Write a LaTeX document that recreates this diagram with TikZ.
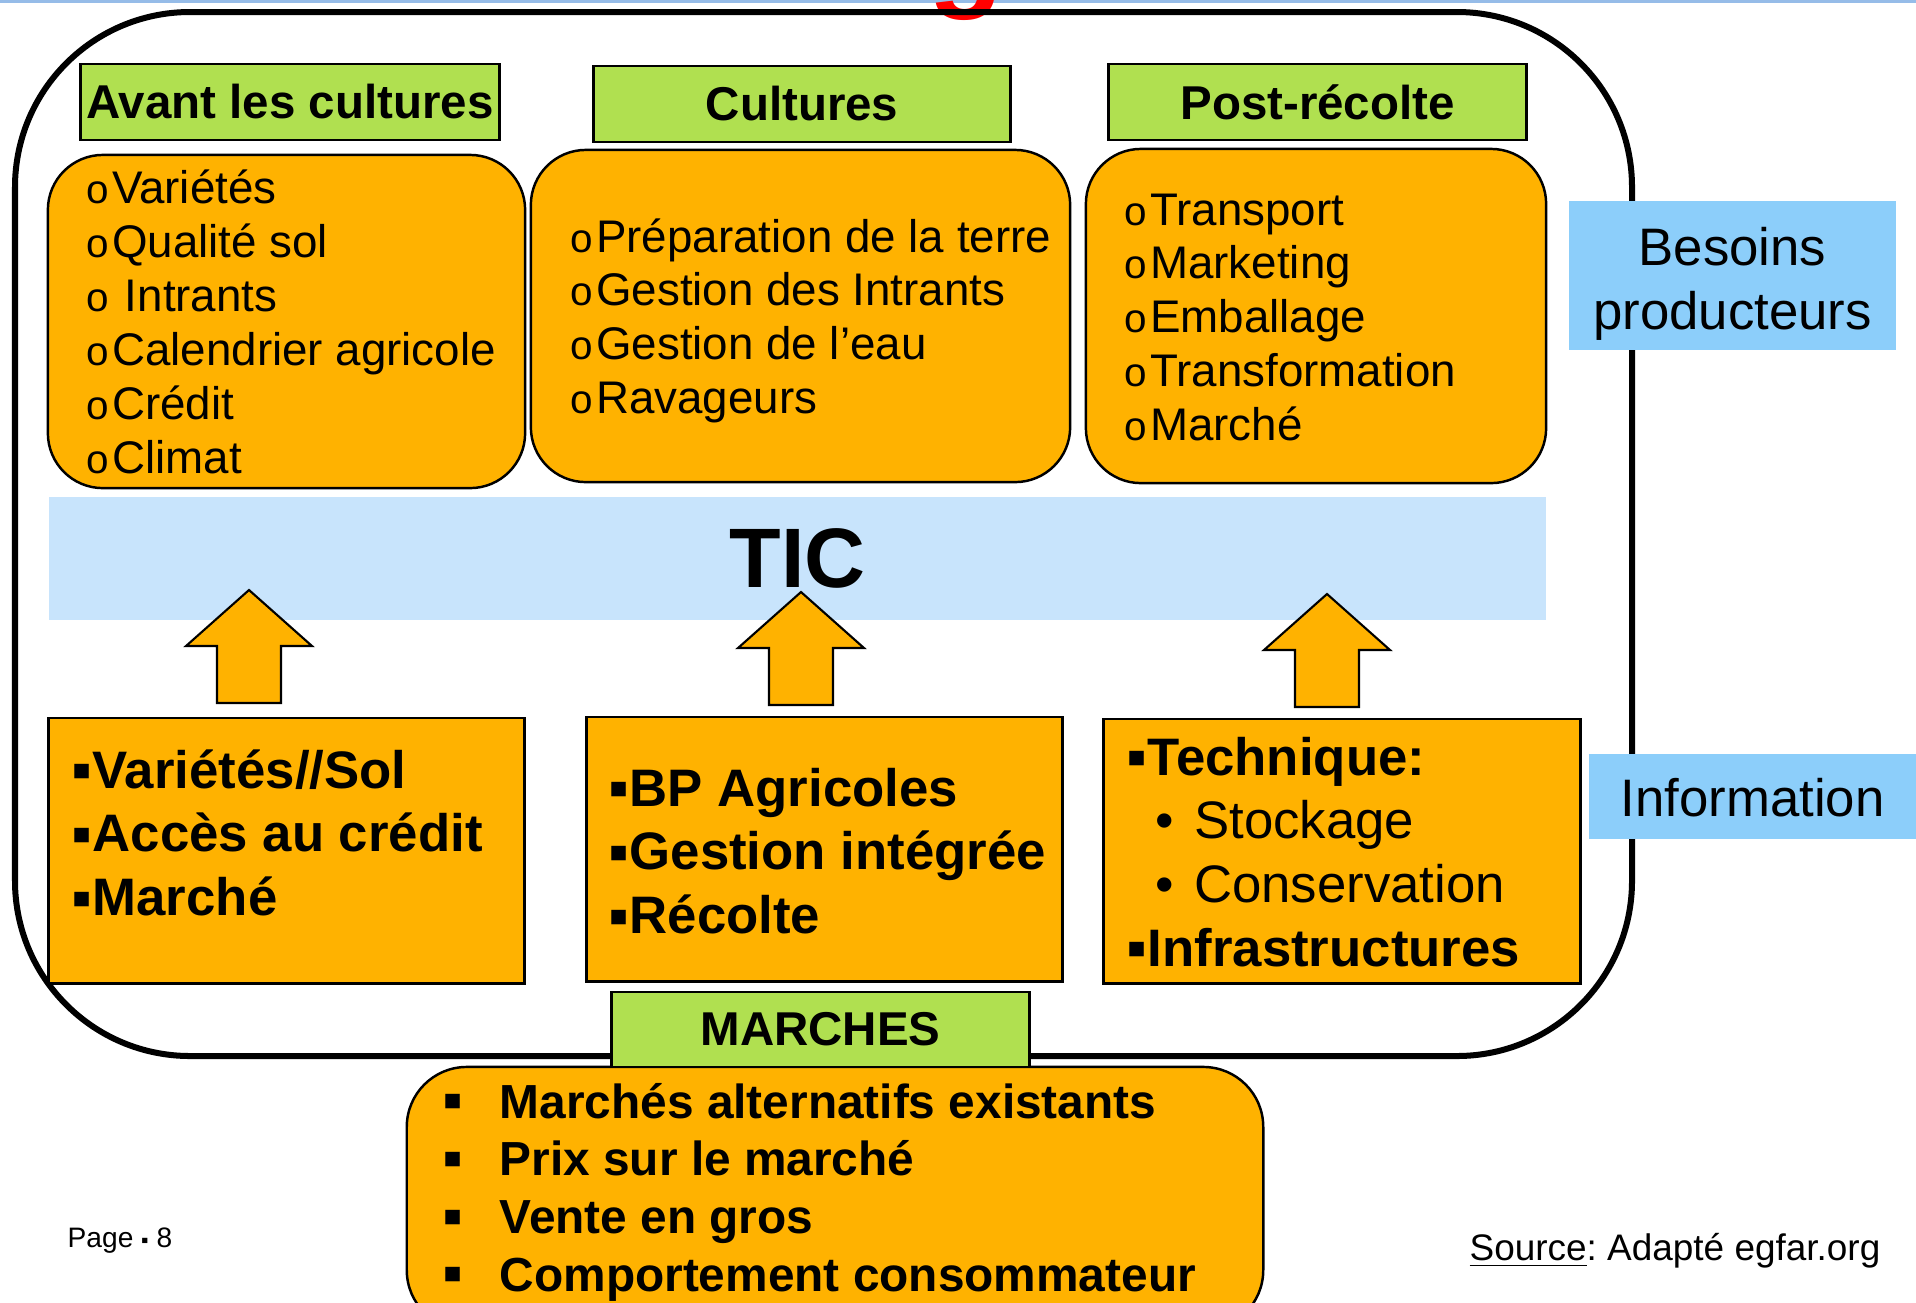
\documentclass[tikz,border=0pt]{standalone}
\usepackage{fontspec}
\setmainfont{Liberation Sans}

\definecolor{hdrgreen}{RGB}{176,224,80}
\definecolor{boxorange}{RGB}{255,178,0}
\definecolor{ticblue}{RGB}{200,228,252}
\definecolor{sideblue}{RGB}{140,206,250}
\definecolor{rulerblue}{RGB}{150,188,232}

% list bullets
\newcommand{\ob}{{\fontsize{11.5}{11.5}\selectfont o}\hspace{0.03cm}}
\newcommand{\sqb}{\makebox[0.2cm][l]{\raisebox{0.075cm}{\fontsize{8.5}{8.5}\selectfont ■}}}

\tikzset{
  hdr/.style={draw, line width=0.8pt, fill=hdrgreen, inner sep=0pt,
    font=\fontsize{13.5}{16}\selectfont\bfseries},
  needbox/.style={draw, line width=0.7pt, fill=boxorange, rounded corners=0.55cm, inner sep=0pt},
  infobox/.style={draw, line width=0.8pt, fill=boxorange, inner sep=0pt},
  sidebox/.style={fill=sideblue, inner sep=0pt},
  sidetxt/.style={inner sep=0pt, align=center, font=\fontsize{15}{18.1}\selectfont},
  lst/.style={anchor=base west, inner sep=0pt},
  uparrow/.style={draw, line width=0.6pt, fill=boxorange},
}

\begin{document}
\begin{tikzpicture}[x=0.01cm, y=-0.01cm]
    \useasboundingbox (0,0) rectangle (1916,1302) ;
    \fill[rulerblue] (0,0) rectangle (1916,3) ;
    \node[anchor=base, text=red, inner sep=0pt, font=\fontsize{35}{35}\selectfont\bfseries] (titlecut) at (966,-6) {g} ;

    % outer frame
    \draw[line width=0.06cm, rounded corners=1.75cm] (15,12) rectangle (1632,1056) ;

    % stages
    \node[hdr, minimum width=4.18cm, minimum height=0.76cm] (avant) at (290,102) {Avant les cultures} ;
    \node[hdr, minimum width=4.16cm, minimum height=0.76cm] (cult) at (802,104) {Cultures} ;
    \node[hdr, minimum width=4.17cm, minimum height=0.76cm] (post) at (1317.5,102) {Post-récolte} ;

    \node[needbox, minimum width=4.77cm, minimum height=3.33cm] (need1) at (286.5,321.5) {} ;
    \node[needbox, minimum width=5.39cm, minimum height=3.32cm] (need2) at (800.5,316) {} ;
    \node[needbox, minimum width=4.60cm, minimum height=3.34cm] (need3) at (1316,316) {} ;

    \node[lst, font=\fontsize{13}{15.37}\selectfont] (lst1) at (86,203) {\begin{tabular}[t]{@{}l@{}}
      \ob Variétés\\ \ob Qualité sol\\ \ob\ Intrants\\ \ob Calendrier agricole\\ \ob Crédit\\ \ob Climat
    \end{tabular}} ;
    \node[lst, font=\fontsize{13}{15.3}\selectfont] (lst2) at (570,252) {\begin{tabular}[t]{@{}l@{}}
      \ob Préparation de la terre\\ \ob Gestion des Intrants\\ \ob Gestion de l’eau\\ \ob Ravageurs
    \end{tabular}} ;
    \node[lst, font=\fontsize{13}{15.3}\selectfont] (lst3) at (1124,225) {\begin{tabular}[t]{@{}l@{}}
      \ob Transport\\ \ob Marketing\\ \ob Emballage\\ \ob Transformation\\ \ob Marché
    \end{tabular}} ;

    % TIC
    \node[fill=ticblue, inner sep=0pt, minimum width=14.97cm, minimum height=1.23cm,
      font=\fontsize{24}{24}\selectfont\bfseries] (tic) at (797.5,558.5) {TIC} ;

    \foreach \cx/\ty in {249/590, 801/592, 1327/594}
      \draw[uparrow] (\cx,\ty) -- ++(63,56) -- ++(-31,0) -- ++(0,57) -- ++(-64,0) -- ++(0,-57) -- ++(-31,0) -- cycle ;

    % information
    \node[infobox, minimum width=4.75cm, minimum height=2.65cm] (info1) at (286.5,850.5) {} ;
    \node[infobox, minimum width=4.75cm, minimum height=2.64cm] (info2) at (824.5,849) {} ;
    \node[infobox, minimum width=4.76cm, minimum height=2.64cm] (info3) at (1342,851) {} ;

    \node[lst, font=\fontsize{15}{18.14}\selectfont\bfseries] (lst4) at (72,788) {\begin{tabular}[t]{@{}l@{}}
      \sqb Variétés//Sol\\ \sqb Accès au crédit\\ \sqb Marché
    \end{tabular}} ;
    \node[lst, font=\fontsize{15}{18.14}\selectfont\bfseries] (lst5) at (609,806) {\begin{tabular}[t]{@{}l@{}}
      \sqb BP Agricoles\\ \sqb Gestion intégrée\\ \sqb Récolte
    \end{tabular}} ;
    \node[lst, font=\fontsize{15}{18.14}\selectfont\bfseries] (lst6) at (1127,775) {\begin{tabular}[t]{@{}l@{}}
      \sqb Technique:\\
      \mdseries\hspace{0.28cm}•\hspace{0.2cm}Stockage\\
      \mdseries\hspace{0.28cm}•\hspace{0.2cm}Conservation\\
      \sqb Infrastructures
    \end{tabular}} ;

    % markets
    \node[needbox, rounded corners=0.6cm, minimum width=8.56cm, minimum height=2.63cm] (market) at (835,1198.5) {} ;
    \node[hdr, minimum width=4.17cm, minimum height=0.75cm] (marches) at (820.5,1029.5) {MARCHES} ;
    \node[lst, font=\fontsize{13.6}{16.44}\selectfont\bfseries] (lst7) at (443,1118) {\begin{tabular}[t]{@{}l@{}}
      \sqb\hspace{0.36cm}Marchés alternatifs existants\\
      \sqb\hspace{0.36cm}Prix sur le marché\\
      \sqb\hspace{0.36cm}Vente en gros\\
      \sqb\hspace{0.36cm}Comportement consommateur
    \end{tabular}} ;

    % side labels
    \node[sidebox, minimum width=3.27cm, minimum height=1.49cm] (besoins) at (1732.5,275.5) {} ;
    \node[sidetxt] (besoinslbl) at (1732.5,284) {Besoins\\producteurs} ;
    \node[sidebox, minimum width=3.27cm, minimum height=0.85cm] (infobar) at (1752.5,796.5) {} ;
    \node[sidetxt] (infolbl) at (1752.5,798) {Information} ;

    \node[lst, font=\fontsize{8}{8}\selectfont] (page) at (67,1247) {Page {\fontsize{6}{6}\selectfont ▪} 8} ;
    \node[lst, font=\fontsize{10.5}{12}\selectfont] (source) at (1469,1260) {\underline{Source}:~Adapté egfar.org} ;
\end{tikzpicture}
\end{document}
